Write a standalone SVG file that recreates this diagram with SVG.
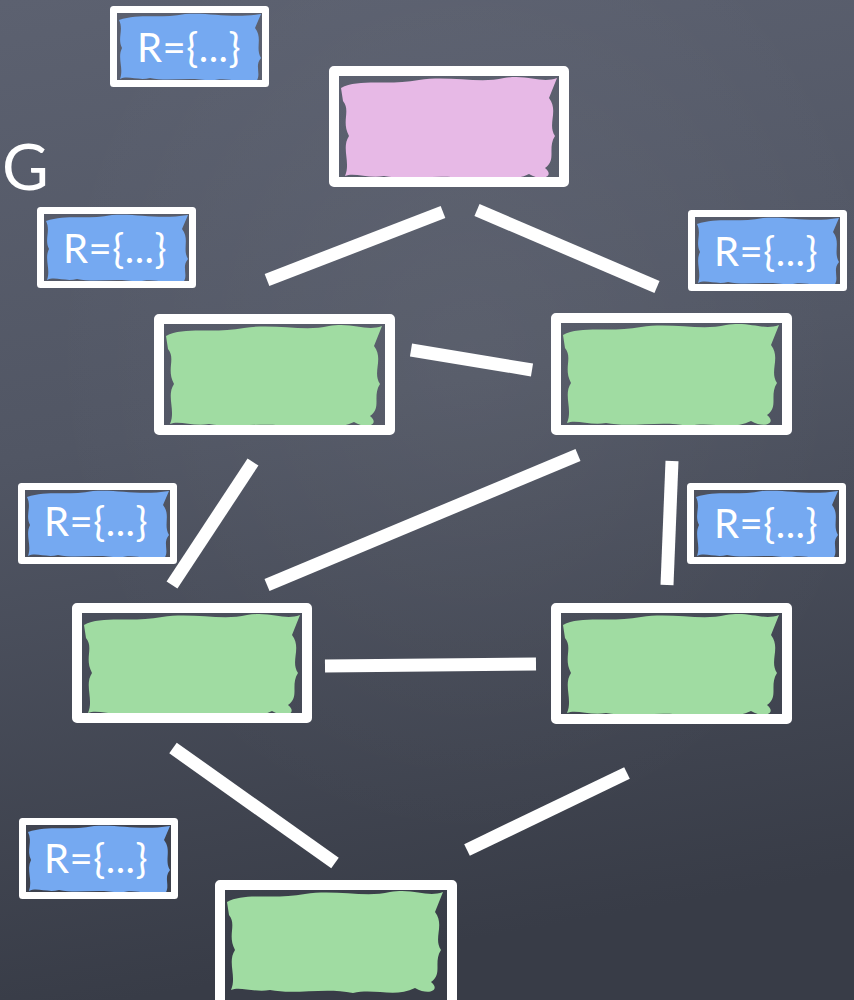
<svg xmlns="http://www.w3.org/2000/svg" width="854" height="1000" viewBox="0 0 854 1000">
<defs>
<linearGradient id="bg" x1="0" y1="0" x2="0.15" y2="1">
<stop offset="0" stop-color="#5c6170"/>
<stop offset="0.45" stop-color="#515664"/>
<stop offset="1" stop-color="#383c47"/>
</linearGradient>
<radialGradient id="glow" cx="0.55" cy="0.35" r="0.5">
<stop offset="0" stop-color="#ffffff" stop-opacity="0.05"/>
<stop offset="1" stop-color="#ffffff" stop-opacity="0"/>
</radialGradient>
<path id="blobBig" d="M12,22 C30,12 60,20 90,14 C120,9 150,18 175,12 C200,8 212,18 228,12 L220,32 C230,45 218,58 226,70 C218,82 228,94 216,102 C226,110 214,116 200,108 C180,118 160,108 138,113 C110,107 80,115 55,110 C40,113 25,106 16,110 C22,96 12,82 20,70 C12,55 22,45 14,35 Z"/>
<path id="blobSmall" d="M9,14 C30,7 50,13 75,8 C100,6 120,13 151,8 L145,22 C153,32 145,42 151,52 C144,60 152,68 146,76 C130,78 118,70 100,75 C80,70 60,76 40,72 C28,75 18,69 10,73 C14,62 7,52 12,42 C7,32 14,24 9,14 Z"/>
</defs>
<style>
.frame{fill:none;stroke:#ffffff;stroke-width:10;stroke-linejoin:round}
.lframe{fill:none;stroke:#ffffff;stroke-width:7;stroke-linejoin:round}
.green{fill:#a0dca2}
.pink{fill:#e7b9e6}
.blue{fill:#75a9f1}
.edge{stroke:#ffffff;stroke-width:13;stroke-linecap:butt}
.rtxt{font-family:"Lato","Open Sans","DejaVu Sans",sans-serif;font-size:40px;letter-spacing:0.5px;fill:#ffffff;text-anchor:middle}
.big{font-family:"Lato","Open Sans","DejaVu Sans",sans-serif;font-size:64px;fill:#ffffff}
</style>
<rect width="854" height="1000" fill="url(#bg)"/>
<rect width="854" height="1000" fill="url(#glow)"/>
<text class="big" x="2" y="190">G</text>
<g id="connectors">
<line class="edge" x1="267" y1="280" x2="443" y2="212"/>
<line class="edge" x1="477" y1="210" x2="657" y2="287"/>
<line class="edge" x1="411" y1="350" x2="532" y2="370"/>
<line class="edge" x1="253" y1="462" x2="172" y2="585"/>
<line class="edge" x1="578" y1="455" x2="267" y2="585"/>
<line class="edge" x1="672" y1="461" x2="667" y2="585"/>
<line class="edge" x1="325" y1="666" x2="536" y2="664"/>
<line class="edge" x1="173" y1="748" x2="335" y2="863"/>
<line class="edge" x1="627" y1="773" x2="467" y2="850"/>
</g>
<g id="root" transform="translate(329,66)">
<use href="#blobBig" class="pink"/>
<rect class="frame" x="5" y="5" width="230" height="111"/>
</g>
<g id="nodeA" transform="translate(154,314)">
<use href="#blobBig" class="green"/>
<rect class="frame" x="5" y="5" width="231" height="111"/>
</g>
<g id="nodeB" transform="translate(551,313)">
<use href="#blobBig" class="green"/>
<rect class="frame" x="5" y="5" width="231" height="112"/>
</g>
<g id="nodeC" transform="translate(72,603)">
<use href="#blobBig" class="green"/>
<rect class="frame" x="5" y="5" width="230" height="110"/>
</g>
<g id="nodeD" transform="translate(551,603)">
<use href="#blobBig" class="green"/>
<rect class="frame" x="5" y="5" width="231" height="111"/>
</g>
<g id="nodeE" transform="translate(215,880)">
<use href="#blobBig" class="green"/>
<rect class="frame" x="5" y="5" width="232" height="130"/>
</g>
<g id="label1" transform="translate(110,6)">
<use href="#blobSmall" class="blue"/>
<rect class="lframe" x="3.5" y="3.5" width="152" height="74"/>
<text class="rtxt" x="79" y="56">R={...}</text>
</g>
<g id="label2" transform="translate(37,207)">
<use href="#blobSmall" class="blue"/>
<rect class="lframe" x="3.5" y="3.5" width="152" height="74"/>
<text class="rtxt" x="78" y="56">R={...}</text>
</g>
<g id="label3" transform="translate(688,210)">
<use href="#blobSmall" class="blue"/>
<rect class="lframe" x="3.5" y="3.5" width="152" height="74"/>
<text class="rtxt" x="78" y="56">R={...}</text>
</g>
<g id="label4" transform="translate(18,483)">
<use href="#blobSmall" class="blue"/>
<rect class="lframe" x="3.5" y="3.5" width="152" height="74"/>
<text class="rtxt" x="78" y="53">R={...}</text>
</g>
<g id="label5" transform="translate(687,483)">
<use href="#blobSmall" class="blue"/>
<rect class="lframe" x="3.5" y="3.5" width="152" height="74"/>
<text class="rtxt" x="79" y="55">R={...}</text>
</g>
<g id="label6" transform="translate(19,818)">
<use href="#blobSmall" class="blue"/>
<rect class="lframe" x="3.5" y="3.5" width="152" height="74"/>
<text class="rtxt" x="77" y="55">R={...}</text>
</g>
</svg>
